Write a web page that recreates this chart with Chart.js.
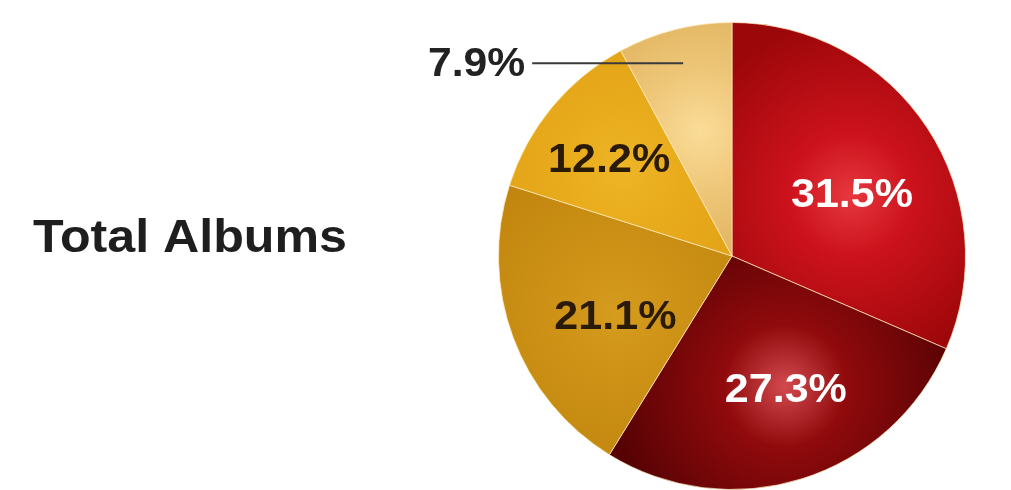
<!DOCTYPE html>
<html><head><meta charset="utf-8">
<script src="https://cdn.jsdelivr.net/npm/chart.js@4.4.1/dist/chart.umd.min.js"></script>
<style>html,body{margin:0;padding:0;background:#fff;}#wrap{width:1011px;height:490px;position:relative;}</style>
</head><body><div id="wrap"><canvas id="c" width="1011" height="490"></canvas></div>
<script>
const categories = ['Segment A', 'Segment B', 'Segment C', 'Segment D', 'Segment E'];
const values = [31.5, 27.3, 21.1, 12.2, 7.9];
const valueLabels = ['31.5%', '27.3%', '21.1%', '12.2%', '7.9%'];
const chartTitle = 'Total Albums';

// style
const gradStops = [
  ['#e6383e', '#cc121c', '#9c0709'],
  ['#d24a4e', '#900a0c', '#560204'],
  ['#d69c1e', '#cd9216', '#c0840e'],
  ['#eeb526', '#e8ab1c', '#e0a015'],
  ['#fadc98', '#eec678', '#d6a850']
];
const hiFrac = [0.57, 0.6, 0.55, 0.6, 0.55];
const labelFrac = [0.577, 0.61, 0.56, 0.67, 0.85];
const labelTurn = [6, -4.7, -6.8, -1.2, 0]; // degrees
const labelColor = ['#ffffff', '#ffffff', '#2a1a08', '#2a1a08', '#222222'];

function geom(chart) {
  const a = chart.chartArea;
  return { cx: (a.left + a.right) / 2, cy: (a.top + a.bottom) / 2, r: Math.min(a.right - a.left, a.bottom - a.top) / 2 };
}
function midAngle(i) {
  const tot = values.reduce((s, v) => s + v, 0);
  let start = -Math.PI / 2;
  for (let k = 0; k < i; k++) start += values[k] / tot * Math.PI * 2;
  return start + values[i] / tot * Math.PI;
}

function bg(ctx) {
  const chart = ctx.chart, i = ctx.dataIndex;
  if (!chart.chartArea) return gradStops[i][1];
  const g = geom(chart);
  const a = midAngle(i) + labelTurn[i] * Math.PI / 180;
  const hx = g.cx + Math.cos(a) * g.r * hiFrac[i], hy = g.cy + Math.sin(a) * g.r * hiFrac[i];
  const grad = chart.ctx.createRadialGradient(hx, hy, 0, hx, hy, g.r * 0.75);
  grad.addColorStop(0, gradStops[i][0]);
  grad.addColorStop(0.35, gradStops[i][1]);
  grad.addColorStop(1, gradStops[i][2]);
  return grad;
}

const labelsPlugin = {
  id: 'labelsPlugin',
  afterDraw(chart) {
    const c = chart.ctx;
    const g = geom(chart);
    c.save();
    // title
    c.font = 'bold 46px "Liberation Sans", Arial, sans-serif';
    c.fillStyle = '#1e1e1e';
    c.textBaseline = 'alphabetic';
    c.textAlign = 'left';
    const tw = c.measureText(chartTitle).width;
    c.save();
    c.translate(33, 252);
    c.scale(314 / tw, 1);
    c.fillText(chartTitle, 0, 0);
    c.restore();
    // value labels
    c.font = 'bold 41px "Liberation Sans", Arial, sans-serif';
    for (let i = 0; i < values.length; i++) {
      const a = midAngle(i) + labelTurn[i] * Math.PI / 180;
      const px = g.cx + Math.cos(a) * g.r * labelFrac[i];
      const py = g.cy + Math.sin(a) * g.r * labelFrac[i];
      c.fillStyle = labelColor[i];
      c.textBaseline = 'middle';
      if (i === values.length - 1) {
        c.strokeStyle = '#3a3a3a';
        c.lineWidth = 2;
        c.beginPath();
        c.moveTo(px, py);
        c.lineTo(px - 151, py);
        c.stroke();
        c.save();
        c.translate(px - 158, py + 1);
        c.scale(1.04, 1);
        c.textAlign = 'right';
        c.fillText(valueLabels[i], 0, 0);
        c.restore();
      } else {
        c.save();
        c.translate(px, py + 2);
        c.scale(1.05, 1);
        c.textAlign = 'center';
        c.fillText(valueLabels[i], 0, 0);
        c.restore();
      }
    }
    c.restore();
  }
};

new Chart(document.getElementById('c'), {
  type: 'pie',
  data: {
    labels: categories,
    datasets: [{
      data: values,
      backgroundColor: bg,
      borderColor: 'rgba(255,235,190,0.7)',
      borderWidth: 1
    }]
  },
  options: {
    responsive: false,
    animation: false,
    layout: { padding: { left: 498, right: 45, top: 22, bottom: 0 } },
    plugins: { legend: { display: false }, tooltip: { enabled: false } },
    events: []
  },
  plugins: [labelsPlugin]
});
</script>
</body></html>
